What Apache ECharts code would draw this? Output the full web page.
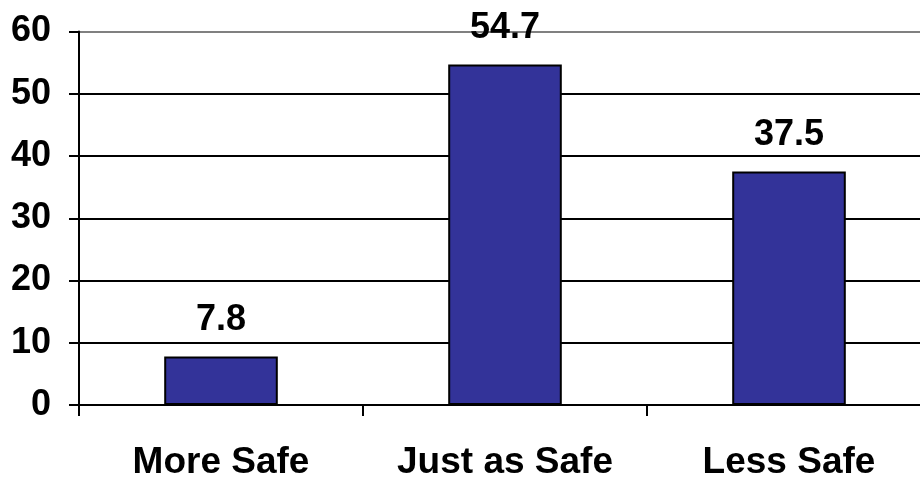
<!DOCTYPE html>
<html>
<head>
<meta charset="utf-8">
<script src="https://cdn.jsdelivr.net/npm/echarts@6/dist/echarts.min.js"></script>
<style>html,body{margin:0;padding:0;background:#fff}#c{width:920px;height:480px}</style>
</head>
<body>
<div id="c"></div>
<script>
const categories = ['More Safe', 'Just as Safe', 'Less Safe'];
const values = [7.8, 54.7, 37.5];
const yTicks = [0, 10, 20, 30, 40, 50, 60];

const FONT = '"Liberation Sans", Arial, Helvetica, sans-serif';
const chart = echarts.init(document.getElementById('c'), null, {renderer: 'canvas'});
chart.setOption({
  animation: false,
  grid: {left: 79, width: 852, top: 31.5, bottom: 75, containLabel: false, outerBoundsMode: 'none'},
  xAxis: {
    type: 'category',
    data: categories,
    boundaryGap: true,
    axisLine: {show: true, lineStyle: {color: '#000', width: 2}},
    axisTick: {show: true, length: 11, lineStyle: {color: '#000', width: 2}},
    axisLabel: {interval: 0, color: '#000', fontFamily: FONT, fontWeight: 'bold', fontSize: 37, margin: 39}
  },
  yAxis: {
    type: 'value',
    min: yTicks[0],
    max: yTicks[yTicks.length - 1],
    interval: 10,
    axisLine: {show: true, lineStyle: {color: '#000', width: 2}},
    axisTick: {show: true, length: 10, lineStyle: {color: '#000', width: 2}},
    axisLabel: {color: '#000', fontFamily: FONT, fontWeight: 'bold', fontSize: 36, margin: 28},
    splitLine: {show: true, lineStyle: {color: ['#000', '#000', '#000', '#000', '#000', '#000', '#808080'], width: 2}}
  },
  series: [{
    type: 'bar',
    data: values,
    barWidth: '40%',
    itemStyle: {color: '#333399', borderColor: '#000', borderWidth: 2},
    label: {show: true, position: 'top', distance: 18, color: '#000', fontFamily: FONT, fontWeight: 'bold', fontSize: 36}
  }]
});
</script>
</body>
</html>
